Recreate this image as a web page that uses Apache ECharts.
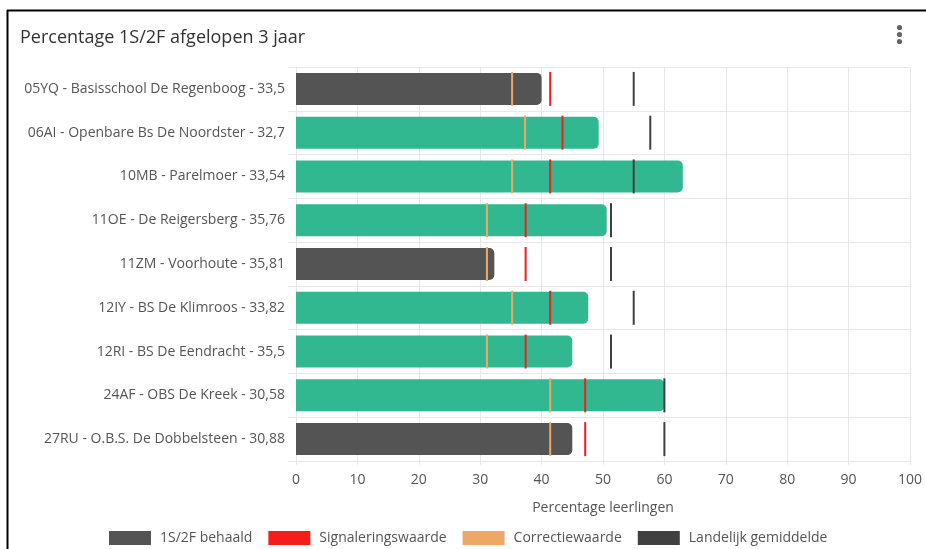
<!DOCTYPE html>
<html lang="nl">
<head>
    <meta charset="UTF-8">
    <title>Percentage 1S/2F</title>
    <style>
        html, body { margin: 0; padding: 0; background: #fff; }
        #chart { width: 926px; height: 549px; }
    </style>
    <script src="https://cdn.jsdelivr.net/npm/echarts@6/dist/echarts.min.js"></script>
</head>
<body>
    <div id="chart"></div>
    <script>
        // scholen (bovenste eerst)
        const scholen = [
            '05YQ - Basisschool De Regenboog - 33,5',
            '06AI - Openbare Bs De Noordster - 32,7',
            '10MB - Parelmoer - 33,54',
            '11OE - De Reigersberg - 35,76',
            '11ZM - Voorhoute - 35,81',
            '12IY - BS De Klimroos - 33,82',
            '12RI - BS De Eendracht - 35,5',
            '24AF - OBS De Kreek - 30,58',
            '27RU - O.B.S. De Dobbelsteen - 30,88'
        ];
        const behaald = [40.0, 49.3, 63.0, 50.6, 32.3, 47.6, 45.0, 60.0, 45.0];
        const signalering = [41.4, 43.4, 41.4, 37.4, 37.4, 41.4, 37.4, 47.1, 47.1];
        const correctie = [35.2, 37.3, 35.2, 31.1, 31.1, 35.2, 31.1, 41.4, 41.4];
        const landelijk = [55.0, 57.7, 55.0, 51.3, 51.3, 55.0, 51.3, 60.0, 60.0];
        const xTicks = [0, 10, 20, 30, 40, 50, 60, 70, 80, 90, 100];

        const font = 'Open Sans';
        const grijs = '#545454';
        const groen = '#32b890';
        const lijnKleur = '#e8e8e8';

        const chart = echarts.init(document.getElementById('chart'));

        // verticaal streepje per school
        const streep = (name, data, color) => ({
            name: name,
            type: 'scatter',
            data: data,
            symbol: 'rect',
            symbolSize: [2, 34],
            itemStyle: { color: color, opacity: 1 },
            z: 3,
            silent: true
        });

        const option = {
            textStyle: { fontFamily: font },
            title: {
                text: 'Percentage 1S/2F afgelopen 3 jaar',
                left: 15,
                top: 24,
                textStyle: { fontFamily: font, fontSize: 18, fontWeight: 'normal', color: '#333' }
            },
            legend: {
                bottom: -1,
                left: 104,
                icon: 'rect',
                itemWidth: 42,
                itemHeight: 14,
                itemGap: 16,
                textStyle: { fontFamily: font, fontSize: 14, color: '#555', padding: [0, 0, 0, 4] },
                data: ['1S/2F behaald', 'Signaleringswaarde', 'Correctiewaarde', 'Landelijk gemiddelde']
            },
            grid: { left: 296, right: 16, top: 67, bottom: 88 },
            xAxis: {
                type: 'value',
                min: xTicks[0],
                max: xTicks[xTicks.length - 1],
                interval: 10,
                name: 'Percentage leerlingen',
                nameLocation: 'middle',
                nameGap: 40,
                nameTextStyle: { fontFamily: font, fontSize: 14, color: '#555' },
                axisLine: { show: true, lineStyle: { color: lijnKleur } },
                axisTick: { show: true, length: 4, lineStyle: { color: lijnKleur } },
                axisLabel: { fontFamily: font, fontSize: 14, color: '#555', margin: 12 },
                splitLine: { show: true, lineStyle: { color: lijnKleur } }
            },
            yAxis: {
                type: 'category',
                inverse: true,
                data: scholen,
                axisLine: { show: true, lineStyle: { color: lijnKleur } },
                axisTick: { show: true, length: 8, lineStyle: { color: lijnKleur } },
                axisLabel: { fontFamily: font, fontSize: 14, color: '#555', margin: 11 },
                splitLine: { show: true, lineStyle: { color: lijnKleur } }
            },
            series: [
                {
                    name: '1S/2F behaald',
                    type: 'bar',
                    barWidth: 32,
                    itemStyle: { color: grijs, borderRadius: [0, 5, 5, 0] },
                    data: behaald.map((v, i) => ({
                        value: v,
                        itemStyle: { color: v >= signalering[i] ? groen : grijs }
                    })),
                    z: 2
                },
                streep('Correctiewaarde', correctie, '#eea866'),
                streep('Signaleringswaarde', signalering, '#f51c1c'),
                streep('Landelijk gemiddelde', landelijk, '#404040')
            ],
            graphic: [
                // kaartrand
                { type: 'line', shape: { x1: 7, y1: 10.5, x2: 926, y2: 10.5 }, style: { stroke: '#000', lineWidth: 2 } },
                { type: 'line', shape: { x1: 7.5, y1: 10, x2: 7.5, y2: 549 }, style: { stroke: '#000', lineWidth: 2 } },
                // menu-puntjes
                { type: 'circle', shape: { cx: 899.5, cy: 27.5, r: 2.6 }, style: { fill: '#666' } },
                { type: 'circle', shape: { cx: 899.5, cy: 34.5, r: 2.6 }, style: { fill: '#666' } },
                { type: 'circle', shape: { cx: 899.5, cy: 41.5, r: 2.6 }, style: { fill: '#666' } }
            ]
        };

        chart.setOption(option);
    </script>
</body>
</html>
